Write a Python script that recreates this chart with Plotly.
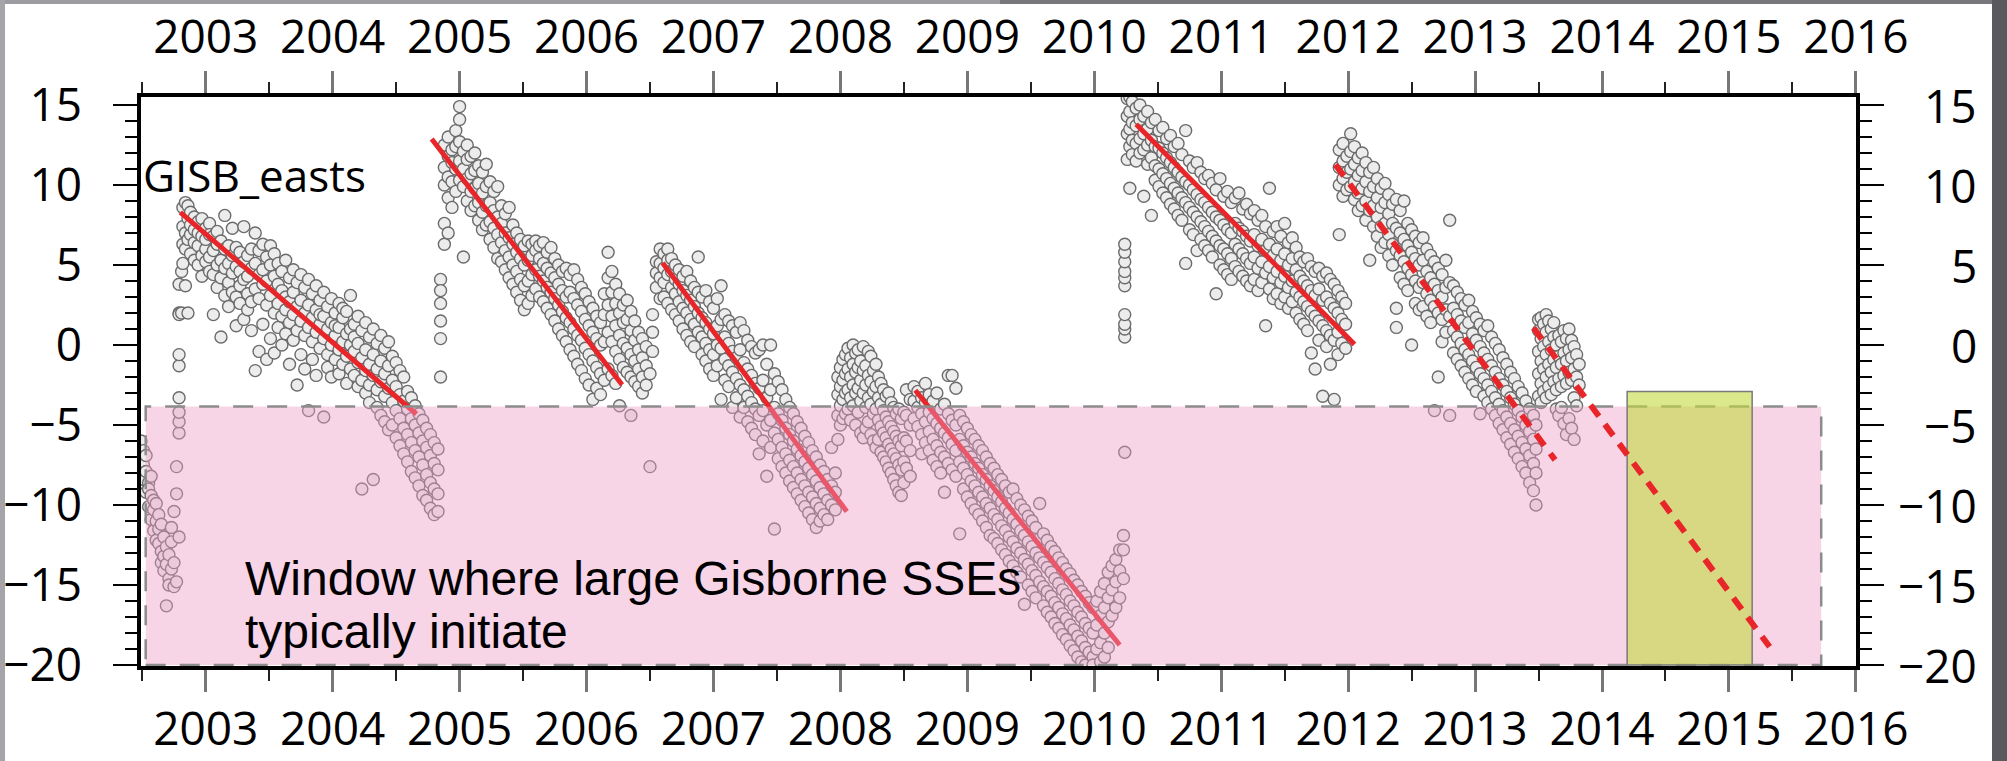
import plotly.graph_objects as go

# ---------------- data (decimal year, east displacement mm) ----------------
seg_a = [(2002.49, [-6.0, -7.2]), (2002.51, [-6.6, -8.4, -7.5]), (2002.53, [-7.9, -9.2, -6.9]),
         (2002.55, [-8.6, -10.1, -9.0]), (2002.57, [-9.4, -10.9, -8.2]), (2002.59, [-10.3, -11.6, -9.7]),
         (2002.61, [-11.0, -9.9, -12.2]), (2002.63, [-10.6, -12.4, -11.5]), (2002.65, [-12.9, -11.2, -13.6]),
         (2002.67, [-12.0, -14.1, -13.2]), (2002.69, [-13.7, -16.3, -12.6]), (2002.71, [-14.6, -13.1, -15.0]),
         (2002.73, [-12.3, -14.0, -11.4]), (2002.75, [-15.1, -13.6, -10.4]), (2002.77, [-14.8, -7.6, -9.3]),
         (2002.79, [-12.0, -5.5, -4.8, -4.2, -3.3, -1.3, -0.6, 2.0, 1.9, 3.8]), (2002.81, [2.0, 4.6])]

seg_b = [(2002.82, [8.6, 7.4, 6.3, 5.1]), (2002.84, [8.9, 7.0, 6.0, 3.7]), (2002.86, [8.7, 7.9, 6.6, 2.0]),
         (2002.88, [8.3, 6.9, 5.7, 7.5]), (2002.91, [8.0, 6.4, 7.2, 5.3]), (2002.94, [7.7, 6.2, 5.0, 7.0]),
         (2002.97, [7.9, 6.8, 5.6, 4.3]), (2003.00, [7.3, 6.0, 5.2, 6.6]), (2003.03, [7.6, 5.5, 6.9, 4.6]),
         (2003.06, [6.8, 5.9, 4.4, 1.9]), (2003.09, [7.1, 6.3, 5.0, 3.6]), (2003.12, [6.5, 5.3, 4.2, 0.5]),
         (2003.15, [8.1, 6.0, 4.8, 3.1]), (2003.18, [6.2, 5.1, 3.9, 2.4]), (2003.21, [7.3, 5.6, 4.5, 3.3]),
         (2003.24, [6.1, 4.9, 1.2, 3.0]), (2003.27, [5.8, 4.6, 3.7, 2.6]), (2003.30, [7.4, 5.2, 4.1, 1.6]),
         (2003.33, [5.6, 4.3, 3.2, 2.2]), (2003.36, [6.0, 4.8, 2.7, 0.9]), (2003.39, [7.0, 5.1, 3.5, -1.6]),
         (2003.42, [5.9, 4.4, 2.9, -0.4]), (2003.45, [6.3, 4.7, 3.8, 1.3]), (2003.48, [5.5, 4.0, 2.5, -0.9]),
         (2003.51, [6.2, 5.0, 3.1, 0.4]), (2003.54, [5.7, 4.3, 2.0, -0.5]), (2003.57, [5.1, 3.8, 2.6, 1.1]),
         (2003.60, [4.6, 3.4, 1.8, 0.0]), (2003.63, [5.3, 3.0, 2.2, 0.7]), (2003.66, [4.2, 2.7, 1.4, -1.2]),
         (2003.69, [4.7, 3.3, 1.9, 0.3]), (2003.72, [3.9, 2.4, 0.9, -2.5]), (2003.75, [4.4, 2.8, 1.5, -0.6]),
         (2003.78, [3.6, 2.0, 0.6, -1.5]), (2003.81, [4.1, 2.5, 1.1, -4.1]), (2003.84, [3.2, 1.7, 0.2, -0.9]),
         (2003.87, [3.7, 2.2, 0.8, -1.9]), (2003.90, [2.8, 1.3, -0.2, 1.9]), (2003.93, [3.3, 1.8, 0.4, -4.5]),
         (2003.96, [2.4, 1.0, -0.6, -1.4]), (2003.99, [2.9, 1.4, 0.0, -2.0]), (2004.02, [2.0, 0.6, -0.9, 1.2]),
         (2004.05, [2.6, 1.1, -0.3, -1.8]), (2004.08, [1.7, 0.2, -1.2, 2.3]), (2004.11, [2.1, 0.7, -0.7, -2.4]),
         (2004.14, [3.1, 0.0, -1.5, 1.0]), (2004.17, [1.3, -0.4, -1.9, 0.5]), (2004.20, [1.8, 0.1, -1.1, -2.6]),
         (2004.23, [0.9, -0.8, -2.2, -9.0]), (2004.26, [1.4, -0.3, -1.6, -3.0]), (2004.29, [0.5, -1.2, -2.5, -3.6]),
         (2004.32, [1.0, -0.6, -1.9, -8.4]), (2004.35, [0.1, -1.5, -2.8, -3.9]), (2004.38, [0.6, -1.0, -2.3, -4.4]),
         (2004.41, [-0.2, -1.8, -3.2, -4.8]), (2004.44, [0.2, -1.3, -2.7, -5.3]), (2004.47, [-0.7, -2.2, -3.6, -5.0]),
         (2004.50, [-1.1, -2.6, -4.1, -5.8]), (2004.53, [-1.6, -3.1, -4.6, -6.3]), (2004.56, [-2.0, -3.5, -5.2, -6.8]),
         (2004.59, [-2.9, -4.0, -5.6, -7.3]), (2004.62, [-3.3, -4.6, -6.1, -7.9]), (2004.65, [-3.8, -5.0, -6.6, -8.3]),
         (2004.68, [-4.3, -5.5, -7.0, -8.8]), (2004.71, [-4.7, -6.0, -7.5, -9.4]), (2004.74, [-5.2, -6.4, -8.1, -9.7]),
         (2004.77, [-5.6, -6.9, -8.6, -10.2]), (2004.80, [-6.1, -7.4, -9.0, -10.6]), (2004.83, [-6.5, -7.8, -9.3, -10.4]),
         (2004.85, [4.1, 3.4, 2.6, 1.5, 0.4, -2.0])]

seg_c = [(2004.88, [12.5, 11.1, 10.0, 7.6, 6.3]), (2004.91, [13.0, 11.8, 10.5, 9.2, 7.0]),
         (2004.94, [12.2, 11.4, 10.2, 8.6]), (2004.97, [13.4, 12.4, 11.0, 9.6]),
         (2005.00, [14.9, 14.1, 12.7, 11.5, 10.3]), (2005.03, [12.1, 11.0, 9.9, 5.5]),
         (2005.06, [12.5, 11.6, 10.4, 9.0]), (2005.09, [11.8, 10.7, 9.6, 8.4]), (2005.12, [12.0, 10.9, 9.8, 8.7]),
         (2005.15, [11.2, 10.1, 8.9, 7.8]), (2005.18, [10.8, 9.5, 8.3, 7.2]), (2005.21, [11.3, 9.9, 8.7, 7.5]),
         (2005.24, [10.2, 8.9, 7.7, 6.6]), (2005.27, [9.6, 8.4, 7.3, 6.1]), (2005.30, [9.9, 8.0, 6.9, 5.4]),
         (2005.33, [8.7, 7.6, 6.4, 5.2]), (2005.36, [8.2, 7.0, 5.9, 4.7]), (2005.39, [8.6, 6.7, 5.5, 4.2]),
         (2005.42, [7.5, 6.3, 5.0, 3.8]), (2005.45, [7.0, 5.8, 4.6, 3.3]), (2005.48, [6.6, 5.4, 4.1, 2.8]),
         (2005.51, [6.2, 5.0, 3.7, 2.2]), (2005.54, [6.5, 5.3, 4.0, 2.6]), (2005.57, [6.3, 5.6, 4.4, 3.1]),
         (2005.60, [6.5, 5.9, 4.7, 3.5]), (2005.63, [6.2, 5.4, 4.3, 3.0]), (2005.66, [6.4, 5.1, 4.0, 2.7]),
         (2005.69, [5.8, 4.8, 3.6, 2.3]), (2005.72, [6.1, 4.5, 3.3, 1.9]), (2005.75, [5.4, 4.2, 2.9, 1.5]),
         (2005.78, [5.0, 3.8, 2.5, 1.0]), (2005.81, [4.6, 3.4, 2.1, 0.6]), (2005.84, [4.8, 3.0, 1.7, 0.2]),
         (2005.87, [4.4, 3.3, 1.4, -0.3]), (2005.90, [4.7, 2.9, 1.0, -0.7]), (2005.93, [4.1, 2.5, 0.6, -1.2]),
         (2005.96, [3.6, 2.1, 0.3, -1.6]), (2005.99, [3.2, 1.6, -0.2, -2.1]), (2006.02, [2.7, 1.2, -0.6, -2.5]),
         (2006.05, [2.3, 0.8, -1.0, -3.4]), (2006.08, [1.8, 0.4, -1.4, -2.7]), (2006.11, [1.4, 0.0, -1.8, -3.1]),
         (2006.14, [3.2, 1.9, 0.2, -2.2]), (2006.17, [5.8, 4.2, 2.5, 0.8, -1.5]), (2006.20, [4.6, 3.3, 1.8, 0.2, -1.9]),
         (2006.23, [3.8, 2.6, 1.2, -0.4, -2.4]), (2006.26, [3.2, 2.0, 0.6, -0.9, -3.8]),
         (2006.29, [2.5, 1.4, 0.1, -1.4]), (2006.32, [2.8, 1.6, -0.2, -1.7]), (2006.35, [2.1, 0.9, -0.6, -2.0, -4.4]),
         (2006.38, [1.5, 0.3, -1.0, -2.3]), (2006.41, [0.8, -0.3, -1.5, -2.6]), (2006.44, [0.4, -0.8, -2.0, -3.0]),
         (2006.47, [-0.1, -1.3, -2.5]), (2006.50, [-7.6, -1.8]), (2006.52, [1.9, -0.4, 0.8])]

seg_d = [(2006.55, [5.2, 4.5, 3.6]), (2006.58, [6.0, 5.1, 4.2, 2.9]), (2006.61, [5.7, 4.8, 3.9, 3.0]),
         (2006.64, [6.0, 5.3, 4.4, 2.6]), (2006.67, [5.4, 4.6, 3.6, 2.2]), (2006.70, [5.0, 4.1, 3.2, 1.9]),
         (2006.73, [4.7, 3.8, 2.7, 1.5]), (2006.76, [4.3, 3.4, 2.3, 1.0]), (2006.79, [4.6, 3.1, 2.0, 0.6]),
         (2006.82, [4.0, 2.8, 1.6, 0.2]), (2006.85, [3.6, 2.4, 1.3, -0.1]), (2006.88, [5.5, 3.3, 2.0, 0.8]),
         (2006.91, [3.0, 1.7, 0.5, -0.6]), (2006.94, [3.4, 1.4, 0.1, -1.0]), (2006.97, [2.7, 1.0, -0.3, -1.5]),
         (2007.00, [2.3, 0.7, -0.6, -1.9]), (2007.03, [2.9, 1.2, 0.0, -1.3]), (2007.06, [3.7, 1.6, -0.2, -3.4]),
         (2007.09, [1.9, 0.5, -0.9, -2.2]), (2007.12, [1.5, 0.1, -1.3, -2.6]), (2007.15, [1.2, -0.4, -1.7, -3.9]),
         (2007.18, [0.8, -0.8, -2.1, -3.3]), (2007.21, [1.4, -0.3, -2.5, -4.5]), (2007.24, [0.9, -1.1, -2.8, -3.9]),
         (2007.27, [0.3, -1.5, -3.2, -4.8]), (2007.30, [-0.1, -1.9, -3.6, -5.2]), (2007.33, [-0.5, -2.4, -4.0, -5.6]),
         (2007.36, [-0.3, -2.7, -4.4, -6.8]), (2007.39, [0.0, -2.2, -4.1, -6.0]), (2007.42, [-1.2, -3.3, -5.0, -8.2]),
         (2007.45, [0.0, -2.8, -4.7, -6.4]), (2007.48, [-1.8, -3.9, -5.5, -11.5]), (2007.51, [-2.3, -4.3, -5.9, -7.1]),
         (2007.54, [-2.8, -4.7, -6.4, -7.6]), (2007.57, [-3.4, -5.2, -6.8, -8.0]), (2007.60, [-3.9, -5.6, -7.2, -8.5]),
         (2007.63, [-4.3, -6.0, -7.6, -8.9]), (2007.66, [-4.8, -6.5, -8.0, -9.3]), (2007.69, [-5.2, -6.9, -8.4, -9.7]),
         (2007.72, [-5.7, -7.3, -8.8, -10.1]), (2007.75, [-6.1, -7.7, -9.2, -10.5]), (2007.78, [-6.6, -8.1, -9.5, -10.9]),
         (2007.81, [-7.0, -8.5, -9.9, -11.4]), (2007.84, [-7.5, -8.9, -10.2, -11.0]), (2007.87, [-7.9, -9.3, -10.6]),
         (2007.90, [-8.4, -9.7, -10.9]), (2007.93, [-8.8, -10.0, -6.4]), (2007.96, [-9.2, -10.3, -8.0])]

seg_e = [(2007.98, [-2.0, -3.1, -4.4, -5.9]), (2008.00, [-1.4, -2.6, -3.8, -5.0]), (2008.02, [-0.9, -2.2, -3.4, -4.6]),
         (2008.04, [-0.6, -1.8, -3.0, -4.3]), (2008.06, [-0.2, -1.5, -2.8, -4.0]), (2008.08, [-0.8, -2.0, -3.3, -4.7]),
         (2008.10, [0.0, -1.2, -2.5, -3.8]), (2008.12, [-0.5, -1.7, -3.0, -5.0]), (2008.14, [-0.3, -1.4, -2.7, -4.2]),
         (2008.16, [-1.0, -2.2, -3.5, -5.5]), (2008.18, [-0.1, -1.6, -3.0, -5.8]), (2008.20, [-1.3, -2.5, -3.9, -5.2]),
         (2008.22, [-0.4, -1.9, -3.3, -4.8]), (2008.24, [-0.7, -2.3, -3.7, -5.6]), (2008.26, [-1.6, -2.9, -4.3, -6.0]),
         (2008.28, [-1.2, -2.6, -4.0, -6.4]), (2008.30, [-2.0, -3.3, -4.7, -5.9]), (2008.32, [-2.4, -3.7, -5.1, -6.7]),
         (2008.34, [-2.8, -4.1, -5.5, -7.0]), (2008.36, [-3.2, -4.5, -5.8, -7.3]), (2008.38, [-3.0, -4.8, -6.2, -7.7]),
         (2008.40, [-3.6, -5.1, -6.5, -8.0]), (2008.42, [-3.9, -5.4, -6.8, -8.4]), (2008.44, [-4.3, -5.7, -7.1, -8.8]),
         (2008.46, [-4.0, -6.0, -7.5, -9.2]), (2008.48, [-4.6, -6.3, -7.8, -9.4]), (2008.50, [-4.2, -5.8, -7.3, -8.6]),
         (2008.52, [-2.8, -4.4, -6.0, -7.7]), (2008.55, [-3.4, -5.0, -6.6, -8.2])]

seg_f = [(2008.58, [-2.6, -3.5, -4.6]), (2008.61, [-2.9, -3.9, -5.1]), (2008.64, [-3.3, -4.3, -5.6, -6.8]),
         (2008.67, [-2.4, -3.6, -4.8, -6.1]), (2008.70, [-3.1, -4.2, -5.4, -6.6]), (2008.73, [-3.5, -4.6, -5.9, -7.2]),
         (2008.76, [-3.0, -4.9, -6.3, -7.6]), (2008.79, [-4.0, -5.2, -6.7, -8.0]), (2008.82, [-3.7, -5.5, -7.0, -9.2]),
         (2008.85, [-1.9, -4.3, -5.8, -7.4]), (2008.88, [-1.9, -4.7, -6.2, -7.8]), (2008.91, [-2.7, -5.0, -6.6, -8.2]),
         (2008.94, [-4.4, -5.9, -7.3, -11.8]), (2008.97, [-4.8, -6.3, -7.7, -9.0]), (2009.00, [-5.2, -6.7, -8.1, -9.5]),
         (2009.03, [-5.6, -7.0, -8.5, -9.9]), (2009.06, [-5.9, -7.4, -8.8, -10.3]), (2009.09, [-6.3, -7.7, -9.2, -10.6]),
         (2009.12, [-6.6, -8.1, -9.5, -11.0]), (2009.15, [-7.0, -8.4, -9.9, -11.4]), (2009.18, [-7.4, -8.8, -10.2, -11.9]),
         (2009.21, [-7.7, -9.1, -10.6, -12.1]), (2009.24, [-8.1, -9.5, -10.9, -12.4]), (2009.27, [-8.4, -9.8, -11.3, -12.8]),
         (2009.30, [-8.8, -10.2, -11.6, -13.1]), (2009.33, [-9.2, -10.5, -12.0, -13.5]), (2009.36, [-9.0, -10.9, -12.3, -13.8]),
         (2009.39, [-9.6, -11.2, -12.7, -14.2]), (2009.42, [-10.0, -11.6, -13.0, -14.5]), (2009.45, [-10.3, -11.9, -13.4, -16.2]),
         (2009.48, [-10.7, -12.3, -13.7, -15.0]), (2009.51, [-11.0, -12.6, -14.1, -15.4]), (2009.54, [-11.4, -13.0, -14.4, -15.8]),
         (2009.57, [-9.9, -12.1, -13.3, -14.8]), (2009.60, [-11.8, -13.6, -15.1, -16.3]), (2009.63, [-12.2, -13.9, -15.4, -16.7]),
         (2009.66, [-12.6, -14.2, -15.7, -17.0]), (2009.69, [-12.9, -14.6, -16.1, -17.4]), (2009.72, [-13.3, -14.9, -16.4, -17.7]),
         (2009.75, [-13.6, -15.3, -16.8, -18.1]), (2009.78, [-14.0, -15.6, -17.1, -18.4]), (2009.81, [-14.3, -16.0, -17.5, -18.8]),
         (2009.84, [-14.7, -16.3, -17.8, -19.1]), (2009.87, [-15.0, -16.7, -18.2, -19.5]), (2009.90, [-15.4, -17.0, -18.5, -19.8]),
         (2009.93, [-15.7, -17.4, -18.9, -20.0]), (2009.96, [-16.1, -17.7, -19.2]), (2009.99, [-16.4, -18.0, -19.5, -20.0]),
         (2010.02, [-16.0, -17.5, -19.0]), (2010.05, [-15.4, -16.9, -18.6, -19.8]), (2010.08, [-14.9, -16.4, -18.0, -19.5]),
         (2010.11, [-14.2, -15.8, -17.3, -18.9]), (2010.14, [-13.8, -15.3, -16.9]), (2010.17, [-13.4, -14.8, -16.4]),
         (2010.20, [-12.8, -14.1, -15.8]), (2010.23, [-11.9, -12.8, -14.6]),
         (2010.24, [-6.7, 0.5, 1.0, 1.3, 1.9, 3.7, 4.2, 4.6, 5.2, 5.8, 6.3])]

seg_g = [(2010.26, [15.4, 14.3, 13.2, 11.6]), (2010.28, [15.5, 14.6, 13.5, 12.4, 9.8]), (2010.30, [15.2, 13.9, 12.8, 11.9]),
         (2010.33, [14.8, 13.7, 12.6, 11.5]), (2010.36, [15.0, 14.1, 12.9, 12.0]), (2010.39, [14.3, 13.2, 12.2, 9.3]),
         (2010.42, [14.6, 13.5, 12.5, 11.3]), (2010.45, [13.9, 12.8, 11.7, 8.1]), (2010.48, [14.1, 12.4, 11.2, 10.3]),
         (2010.51, [13.4, 12.3, 11.0, 9.9]), (2010.54, [13.6, 12.0, 10.7, 9.5]), (2010.57, [12.9, 11.7, 10.4, 9.2]),
         (2010.60, [13.1, 11.4, 10.1, 8.8]), (2010.63, [12.4, 11.1, 9.8, 8.5]), (2010.66, [12.6, 10.8, 9.5, 8.1]),
         (2010.69, [11.9, 10.5, 9.2, 7.8]), (2010.72, [13.4, 10.2, 8.9, 5.1]), (2010.75, [11.5, 10.0, 8.6, 7.2]),
         (2010.78, [11.1, 9.7, 8.3, 6.9]), (2010.81, [11.4, 9.4, 8.0, 5.9]), (2010.84, [10.8, 9.1, 7.7, 6.6]),
         (2010.87, [10.4, 8.9, 7.4, 6.2]), (2010.90, [10.6, 8.6, 7.1, 5.9]), (2010.93, [10.1, 8.3, 6.8, 5.5]),
         (2010.96, [9.7, 8.0, 6.5, 3.2]), (2010.99, [10.4, 7.8, 6.2, 5.0]), (2011.02, [9.3, 7.5, 6.0, 4.7]),
         (2011.05, [9.6, 7.2, 5.7, 4.4]), (2011.08, [8.9, 7.0, 5.4, 4.1]), (2011.11, [9.2, 7.6, 6.3, 4.9]),
         (2011.14, [9.5, 7.3, 6.0, 4.6]), (2011.17, [8.5, 7.1, 5.7, 4.3]), (2011.20, [8.8, 6.8, 5.4, 4.0]),
         (2011.23, [8.2, 6.5, 5.1, 3.7]), (2011.26, [8.4, 6.9, 5.5, 4.1]), (2011.29, [7.8, 6.2, 4.8, 3.4]),
         (2011.32, [8.1, 6.6, 5.2, 3.9]), (2011.35, [7.4, 5.9, 4.5, 1.2]), (2011.38, [9.8, 6.3, 4.9, 3.5]),
         (2011.41, [7.1, 5.6, 4.2, 2.9]), (2011.44, [7.4, 6.0, 4.6, 3.2]), (2011.47, [6.8, 5.3, 3.9, 2.6]),
         (2011.50, [7.6, 5.7, 4.3, 3.0]), (2011.53, [6.4, 5.0, 3.6, 2.3]), (2011.56, [6.7, 5.4, 4.0, 2.7]),
         (2011.59, [6.1, 4.7, 3.3, 2.0]), (2011.62, [5.5, 4.3, 3.0, 1.6]), (2011.65, [5.2, 4.0, 2.7, 1.3]),
         (2011.68, [5.4, 3.7, 2.4, 0.9]), (2011.71, [4.9, 3.4, 2.1, -0.5]), (2011.74, [4.6, 3.1, 1.8, -1.5]),
         (2011.77, [4.8, 3.5, 1.5, 0.3]), (2011.80, [4.3, 2.8, 1.2, -3.2]), (2011.83, [4.5, 3.0, 0.9, -0.1]),
         (2011.86, [4.1, 2.6, 0.6, -1.2]), (2011.89, [3.8, 2.3, 0.3, -3.4]), (2011.92, [3.4, 2.0, 0.8, -0.6]),
         (2011.95, [3.0, 1.6, 0.1]), (2011.98, [2.6, 1.3, -0.2])]

seg_h = [(2011.93, [12.2, 11.1, 10.0, 6.9]), (2011.96, [12.6, 11.5, 10.4, 9.3]), (2011.99, [11.8, 10.8, 9.7]),
         (2012.02, [13.2, 12.1, 11.0, 9.9]), (2012.05, [12.4, 11.3, 10.2, 9.1]), (2012.08, [11.7, 10.6, 9.5, 8.4]),
         (2012.11, [12.0, 10.9, 9.8, 8.7]), (2012.14, [11.4, 10.2, 9.0, 7.8]), (2012.17, [10.8, 9.6, 8.4, 5.3]),
         (2012.20, [11.1, 9.9, 8.7, 7.4]), (2012.23, [10.4, 9.2, 8.0, 6.8]), (2012.26, [9.8, 8.6, 7.4, 6.1]),
         (2012.29, [10.1, 8.9, 7.6, 6.4]), (2012.32, [9.4, 8.2, 6.9, 5.6]), (2012.35, [8.8, 7.6, 6.3, 5.0]),
         (2012.38, [9.1, 7.3, 5.9, 2.3, 1.1]), (2012.41, [8.4, 7.0, 5.6, 4.2]), (2012.44, [9.0, 6.6, 5.2, 3.8]),
         (2012.47, [7.6, 6.2, 4.8, 3.4]), (2012.50, [7.2, 5.8, 4.4, 0.0]), (2012.53, [6.8, 5.4, 4.0, 2.6]),
         (2012.56, [6.4, 5.0, 3.6, 2.2]), (2012.59, [6.7, 5.3, 3.9, 2.4]), (2012.62, [6.0, 4.6, 3.2, 1.8]),
         (2012.65, [5.6, 4.2, 2.8, 1.4]), (2012.68, [5.2, 3.8, 2.4, -4.1]), (2012.71, [4.8, 3.4, 2.0, -2.0]),
         (2012.74, [4.4, 3.0, 1.6, 0.2]), (2012.77, [5.3, 3.6, 2.2, 0.8]), (2012.80, [7.8, 3.9, 1.8, -4.4]),
         (2012.83, [3.7, 2.3, 0.9, -0.5]), (2012.86, [3.3, 1.9, 0.5, -0.9]), (2012.89, [2.9, 1.5, 0.1, -1.3]),
         (2012.92, [2.5, 1.1, -0.3, -1.7]), (2012.95, [2.8, 1.4, -0.6, -2.1]), (2012.98, [2.1, 0.7, -1.0, -2.5]),
         (2013.01, [1.7, 0.3, -1.4, -2.9]), (2013.04, [1.3, -0.1, -1.8, -4.3]), (2013.07, [0.9, -0.5, -2.1, -3.2]),
         (2013.10, [1.2, -0.9, -2.5, -3.6]), (2013.13, [0.5, -1.3, -2.9, -4.0]), (2013.16, [0.1, -1.7, -3.3, -4.4]),
         (2013.19, [-0.3, -2.1, -3.7, -4.9]), (2013.22, [-0.8, -2.5, -4.1, -5.3]), (2013.25, [-1.2, -2.9, -4.5, -5.8]),
         (2013.28, [-1.7, -3.3, -4.9, -6.2]), (2013.31, [-2.1, -3.7, -5.3, -6.7]), (2013.34, [-2.6, -4.1, -5.7, -7.1]),
         (2013.37, [-3.0, -4.5, -6.1, -7.6]), (2013.40, [-3.5, -5.0, -6.5, -8.0]), (2013.43, [-4.0, -5.4, -6.9, -8.6]),
         (2013.46, [-4.4, -5.9, -7.4, -9.1]), (2013.48, [-5.0, -6.5, -8.0, -10.0])]

seg_i = [(2013.50, [-3.2, -1.8, -0.4, 0.9, 1.6]), (2013.52, [-3.6, -2.4, -1.0, 0.4, 1.7]),
         (2013.54, [-2.9, -1.5, -0.1, 1.3]), (2013.56, [-3.3, -2.0, -0.6, 0.8, 1.9]),
         (2013.58, [-2.6, -1.2, 0.2, 1.5]), (2013.60, [-3.1, -1.7, -0.3, 1.0]), (2013.62, [-2.3, -0.9, 0.5, 1.4]),
         (2013.64, [-2.8, -1.4, 0.0, -4.0]), (2013.66, [-2.1, -0.7, 0.6, -4.4]), (2013.68, [-2.6, -1.2, 0.2, -3.9]),
         (2013.70, [-1.9, -0.5, 0.9, -4.9]), (2013.72, [-2.4, -1.0, 0.4, -5.6]), (2013.74, [-1.7, -0.3, 1.0, -4.6]),
         (2013.76, [-2.2, -0.8, 0.3, -5.2]), (2013.78, [-1.5, -0.1, -3.3, -5.9]), (2013.80, [-2.0, -0.6, -3.8]),
         (2013.82, [-1.2, -2.5])]

# inter-SSE linear fits (solid) and projections (dashed)
fit_solid = [([2002.80, 2004.66], [8.29, -4.31]),
             ([2004.78, 2006.28], [12.87, -2.48]),
             ([2006.60, 2008.05], [5.12, -10.40]),
             ([2008.59, 2010.20], [-2.83, -18.75]),
             ([2010.33, 2012.05], [13.79, 0.04])]
fit_dashed = [([2011.90, 2013.63], [11.27, -7.18]),
              ([2013.46, 2015.32], [1.07, -18.86])]

# shaded windows
window_x = [2002.527, 2015.727]
window_y = [-20.0, -3.85]
next_x = [2014.198, 2015.183]
next_y = [-20.0, -2.9]

y_ticks = [15, 10, 5, 0, -5, -10, -15, -20]
x_range = [2002.49, 2016.001]
y_range = [-20.06, 15.5]

# ---------------- build ----------------
xs, ys = [], []
for seg in (seg_a, seg_b, seg_c, seg_d, seg_e, seg_f, seg_g, seg_h, seg_i):
    for t, vals in seg:
        for v in vals:
            xs.append(t)
            ys.append(v)

RED = '#e8262a'
fig = go.Figure()
fig.add_trace(go.Scatter(x=xs, y=ys, mode='markers',
                         marker=dict(size=12, color='#ececec', line=dict(color='#6b6b6b', width=1.4)),
                         hoverinfo='skip'))
sx, sy = [], []
for fx, fy in fit_solid:
    sx += fx + [None]
    sy += fy + [None]
fig.add_trace(go.Scatter(x=sx, y=sy, mode='lines', line=dict(color=RED, width=5)))

wx = [window_x[0], window_x[1], window_x[1], window_x[0], window_x[0]]
wy = [window_y[0], window_y[0], window_y[1], window_y[1], window_y[0]]
fig.add_trace(go.Scatter(x=wx, y=wy, mode='lines', fill='toself',
                         fillcolor='rgba(235,152,195,0.42)', line=dict(width=0)))
fig.add_trace(go.Scatter(x=wx, y=wy, mode='lines',
                         line=dict(color='#8c8c8c', width=2.5, dash='20px,14px')))
nx = [next_x[0], next_x[1], next_x[1], next_x[0], next_x[0]]
ny = [next_y[0], next_y[0], next_y[1], next_y[1], next_y[0]]
fig.add_trace(go.Scatter(x=nx, y=ny, mode='lines', fill='toself',
                         fillcolor='rgba(195,217,63,0.6)', line=dict(color='#7a7a7a', width=1.5)))
dx, dy = [], []
for fx, fy in fit_dashed:
    dx += fx + [None]
    dy += fy + [None]
fig.add_trace(go.Scatter(x=dx, y=dy, mode='lines', xaxis='x2',
                         line=dict(color=RED, width=6, dash='14px,10px')))

TICKFONT = dict(family='Open Sans', size=46, color='black')
xcommon = dict(range=x_range, tick0=2003, dtick=1, tickformat='d', ticks='outside', ticklen=22,
               tickwidth=2.5, tickcolor='#777777', showline=True, linewidth=3.5, linecolor='black',
               showgrid=False, zeroline=False, tickfont=TICKFONT, automargin=False,
               minor=dict(dtick=0.5, tick0=2003, ticks='outside', ticklen=11, tickwidth=2, tickcolor='#222222',
                          showgrid=False))
fig.update_layout(
    width=2007, height=761,
    margin=dict(l=141, r=151, t=97, b=95, pad=0, autoexpand=False),
    paper_bgcolor='#5a595e', plot_bgcolor='white', showlegend=False,
    font=dict(family='Open Sans', color='black'),
    xaxis=dict(**xcommon, ticklabelstandoff=-2),
    xaxis2=dict(**xcommon, ticklabelstandoff=0, overlaying='x', side='top', matches='x', anchor='y'),
    yaxis=dict(range=y_range, tick0=0, dtick=5, ticks='outside', ticklen=24, tickwidth=2, tickcolor='black',
               showline=True, linewidth=3.5, linecolor='black', mirror='ticks', showgrid=False, zeroline=False,
               tickfont=TICKFONT, ticklabelstandoff=22, automargin=False,
               minor=dict(dtick=1, ticks='outside', ticklen=12, tickwidth=1.5, tickcolor='black', showgrid=False)),
)

# slide background framing
def px_x(p):
    return (p - 141) / 1715.0

def px_y(p):
    return (666 - p) / 569.0

fig.add_shape(type='rect', xref='paper', yref='paper', x0=px_x(5), x1=px_x(1992), y0=px_y(800), y1=px_y(4),
              fillcolor='white', line=dict(width=0), layer='below')
fig.add_shape(type='rect', xref='paper', yref='paper', x0=px_x(0), x1=px_x(5), y0=px_y(800), y1=px_y(0),
              fillcolor='#a5a4a9', line=dict(width=0), layer='below')
fig.add_shape(type='rect', xref='paper', yref='paper', x0=px_x(5), x1=px_x(1000), y0=px_y(4), y1=px_y(0),
              fillcolor='#9d9ca1', line=dict(width=0), layer='below')
fig.add_shape(type='rect', xref='paper', yref='paper', x0=px_x(1000), x1=px_x(1992), y0=px_y(4), y1=px_y(0),
              fillcolor='#78777c', line=dict(width=0), layer='below')

# right-hand tick labels (right aligned)
for v in y_ticks:
    txt = str(v).replace('-', '\u2212')
    fig.add_annotation(x=px_x(1979), xref='paper', y=v, yref='y', text=txt, showarrow=False,
                       xanchor='right', yanchor='middle', font=TICKFONT)

fig.add_annotation(x=x_range[0], xref='x', y=10.6, yref='y', text='GISB_easts', showarrow=False,
                   xanchor='left', yanchor='middle', font=dict(family='Open Sans', size=44, color='black'))
fig.add_annotation(x=2003.29, xref='x', y=-14.6, yref='y', text='Window where large Gisborne SSEs',
                   showarrow=False, xanchor='left', yanchor='middle',
                   font=dict(family='Liberation Sans', size=48, color='black'))
fig.add_annotation(x=2003.29, xref='x', y=-17.9, yref='y', text='typically initiate',
                   showarrow=False, xanchor='left', yanchor='middle',
                   font=dict(family='Liberation Sans', size=48, color='black'))

fig.write_html('out.html')
